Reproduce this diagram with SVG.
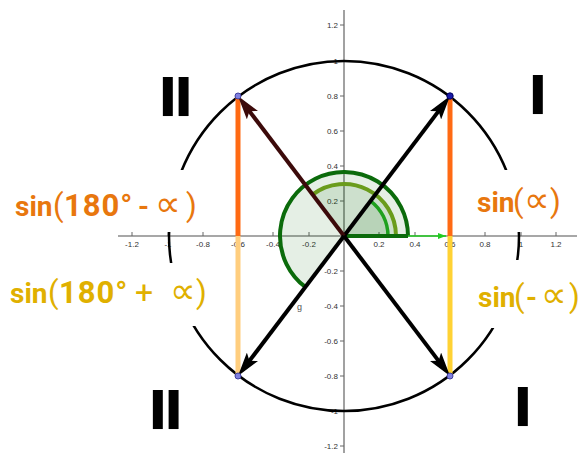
<svg xmlns="http://www.w3.org/2000/svg" width="581" height="453" viewBox="0 0 581 453">
<style>
.ax{stroke:#8a8a8a;stroke-width:1.6;fill:none}
.tk{stroke:#666;stroke-width:1}
.tl{font-family:"Liberation Sans",Arial,sans-serif;font-size:8px;fill:#333}
.tx{text-anchor:middle}
.ty{text-anchor:end}
.box{fill:#fff}
.lbl{font-family:Roboto,"Liberation Sans",sans-serif;font-size:28px;font-weight:bold;word-spacing:-7px}
.num{font-size:31px;letter-spacing:1px}
.p{font-weight:normal;font-size:31px}
.pl{font-weight:normal;font-size:32px}
.pr{font-family:"DejaVu Sans","Liberation Sans",sans-serif;font-weight:normal;font-size:36px}
.or{fill:#E8770E}
.ye{fill:#E0B000}
.rn{font-family:"DejaVu Sans",sans-serif;font-weight:bold;font-size:53px;fill:#000;letter-spacing:-4px}
.arr{stroke-width:4;fill:none}
.sf{fill:#006400;fill-opacity:0.1;stroke:none}
.dot{stroke-width:1}
</style>
<defs>
<marker id="ahB" viewBox="0 0 24 14" refX="16" refY="7" markerWidth="24" markerHeight="14" markerUnits="userSpaceOnUse" orient="auto"><path d="M0,0 L24,7 L0,14 L5,7 Z" fill="#000"/></marker>
<marker id="ahR" viewBox="0 0 24 14" refX="16" refY="7" markerWidth="24" markerHeight="14" markerUnits="userSpaceOnUse" orient="auto"><path d="M0,0 L24,7 L0,14 L5,7 Z" fill="#3c0a0a"/></marker>
<marker id="ahG" viewBox="0 0 8 6" refX="8" refY="3" markerWidth="8" markerHeight="6" markerUnits="userSpaceOnUse" orient="auto"><path d="M0,0 L8,3 L0,6 Z" fill="#22cc22"/></marker>
</defs>
<rect width="581" height="453" fill="#fff"/>
<g id="axes">
<line class="ax" x1="118" y1="236" x2="577" y2="236"/>
<line class="ax" x1="344" y1="10" x2="344" y2="453"/>
<g class="tk">
<line x1="132" y1="232" x2="132" y2="236"/><line x1="168" y1="232" x2="168" y2="236"/><line x1="203" y1="232" x2="203" y2="236"/><line x1="238" y1="232" x2="238" y2="236"/><line x1="273" y1="232" x2="273" y2="236"/><line x1="309" y1="232" x2="309" y2="236"/><line x1="379" y1="232" x2="379" y2="236"/><line x1="415" y1="232" x2="415" y2="236"/><line x1="450" y1="232" x2="450" y2="236"/><line x1="485" y1="232" x2="485" y2="236"/><line x1="521" y1="232" x2="521" y2="236"/><line x1="556" y1="232" x2="556" y2="236"/>
<line x1="340" y1="25" x2="344" y2="25"/><line x1="340" y1="61" x2="344" y2="61"/><line x1="340" y1="96" x2="344" y2="96"/><line x1="340" y1="131" x2="344" y2="131"/><line x1="340" y1="166" x2="344" y2="166"/><line x1="340" y1="201" x2="344" y2="201"/><line x1="340" y1="271" x2="344" y2="271"/><line x1="340" y1="306" x2="344" y2="306"/><line x1="340" y1="341" x2="344" y2="341"/><line x1="340" y1="376" x2="344" y2="376"/><line x1="340" y1="411" x2="344" y2="411"/><line x1="340" y1="446" x2="344" y2="446"/>
</g>
<g class="tl tx">
<text x="132" y="247">-1.2</text><text x="168" y="247">-1</text><text x="203" y="247">-0.8</text><text x="238" y="247">-0.6</text><text x="273" y="247">-0.4</text><text x="309" y="247">-0.2</text><text x="379" y="247">0.2</text><text x="415" y="247">0.4</text><text x="450" y="247">0.6</text><text x="485" y="247">0.8</text><text x="521" y="247">1</text><text x="556" y="247">1.2</text>
</g>
<g class="tl ty">
<text x="338" y="28">1.2</text><text x="338" y="64">1</text><text x="338" y="99">0.8</text><text x="338" y="134">0.6</text><text x="338" y="169">0.4</text><text x="338" y="204">0.2</text><text x="338" y="274">-0.2</text><text x="338" y="309">-0.4</text><text x="338" y="344">-0.6</text><text x="338" y="379">-0.8</text><text x="338" y="414">-1</text><text x="338" y="449">-1.2</text>
</g>
</g>
<g id="unit-circle"><circle cx="344" cy="236" r="175" fill="none" stroke="#000" stroke-width="2.5"/></g>
<g id="label-boxes">
<rect class="box" x="4" y="170" width="202" height="62"/>
<rect class="box" x="4" y="263" width="210" height="63"/>
<rect class="box" x="470" y="170" width="111" height="62"/>
<rect class="box" x="470" y="260" width="111" height="68"/>
</g>
<g id="angles">
<path class="sf" d="M344,236 L408,236 A64,64 0 1 0 305.6,287.2 Z"/>
<path class="sf" d="M344,236 L396,236 A52,52 0 0 0 312.8,194.4 Z"/>
<path class="sf" d="M344,236 L388,236 A44,44 0 0 0 370.4,200.8 Z"/>
<path d="M408,236 A64,64 0 1 0 305.6,287.2" fill="none" stroke="#0b6b0b" stroke-width="4"/>
<path d="M396,236 A52,52 0 0 0 312.8,194.4" fill="none" stroke="#6a9c1c" stroke-width="4"/>
<path d="M388,236 A44,44 0 0 0 370.4,200.8" fill="none" stroke="#1fa01f" stroke-width="3.5"/>
<line x1="344" y1="236" x2="446" y2="236" stroke="#22cc22" stroke-width="1.5" marker-end="url(#ahG)"/>
<line x1="344" y1="236" x2="408" y2="236" stroke="#0b6b0b" stroke-width="4"/>
<text x="297" y="310" font-family="Liberation Sans,Arial,sans-serif" font-size="9" fill="#555">g</text>
</g>
<g id="connectors">
<line x1="450" y1="96" x2="450" y2="236" stroke="#FF6A13" stroke-width="5"/>
<line x1="450" y1="236" x2="450" y2="376" stroke="#FFD234" stroke-width="5"/>
<line x1="238" y1="96" x2="238" y2="236" stroke="#FF6A13" stroke-width="5"/>
<line x1="238" y1="236" x2="238" y2="376" stroke="#FFCE7E" stroke-width="5"/>
<line class="arr" x1="344" y1="236" x2="445.2" y2="102.4" stroke="#000" marker-end="url(#ahB)"/>
<line class="arr" x1="344" y1="236" x2="242.8" y2="102.4" stroke="#3c0a0a" marker-end="url(#ahR)"/>
<line class="arr" x1="344" y1="236" x2="242.8" y2="369.6" stroke="#000" marker-end="url(#ahB)"/>
<line class="arr" x1="344" y1="236" x2="445.2" y2="369.6" stroke="#000" marker-end="url(#ahB)"/>
</g>
<g id="points">
<circle class="dot" cx="450" cy="96" r="3.2" fill="#1a1aa8" stroke="#000060"/>
<circle class="dot" cx="238" cy="96" r="3" fill="#8080e0" stroke="#4040a0"/>
<circle class="dot" cx="238" cy="376" r="3" fill="#8080e0" stroke="#4040a0"/>
<circle class="dot" cx="450" cy="376" r="3" fill="#8080e0" stroke="#4040a0"/>
</g>
<g id="label-sin-180-minus">
<text class="lbl or" y="216"><tspan x="15">sin</tspan><tspan class="p" x="53">(</tspan><tspan class="num" x="64">180° </tspan><tspan x="138">-  </tspan><tspan class="pr" x="155">∝</tspan><tspan class="p" x="186">)</tspan></text>
</g>
<g id="label-sin-180-plus">
<text class="lbl ye" y="303"><tspan x="10">sin</tspan><tspan class="p" x="48">(</tspan><tspan class="num" x="59">180° </tspan><tspan class="pl" x="135">+  </tspan><tspan class="pr" x="170">∝</tspan><tspan class="p" x="196">)</tspan></text>
</g>
<g id="label-sin-alpha">
<text class="lbl or" y="212"><tspan x="477">sin</tspan><tspan class="p" x="513">(</tspan><tspan class="pr" x="524">∝</tspan><tspan class="p" x="550">)</tspan></text>
</g>
<g id="label-sin-minus-alpha">
<text class="lbl ye" y="307"><tspan x="478">sin</tspan><tspan class="p" x="514">(</tspan><tspan x="526">- </tspan><tspan class="pr" x="541">∝</tspan><tspan class="p" x="569">)</tspan></text>
</g>
<g id="quadrant-labels">
<text class="rn" x="528" y="114">I</text>
<text class="rn" x="158" y="116">II</text>
<text class="rn" x="148" y="429">II</text>
<text class="rn" x="513" y="426">I</text>
</g>
</svg>
